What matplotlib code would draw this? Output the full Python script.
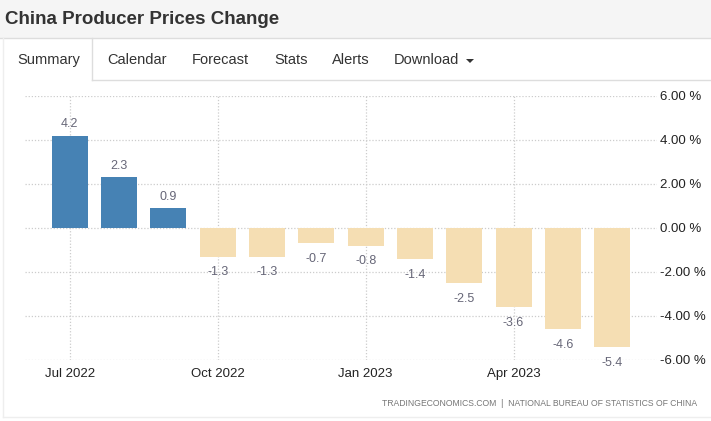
import matplotlib
matplotlib.use("Agg")
import matplotlib.pyplot as plt
from matplotlib.patches import Rectangle, Polygon

plt.rcParams['font.family'] = ['Liberation Sans', 'DejaVu Sans']

# data
months = ['Jul 2022', 'Aug 2022', 'Sep 2022', 'Oct 2022', 'Nov 2022', 'Dec 2022',
          'Jan 2023', 'Feb 2023', 'Mar 2023', 'Apr 2023', 'May 2023', 'Jun 2023']
values = [4.2, 2.3, 0.9, -1.3, -1.3, -0.7, -0.8, -1.4, -2.5, -3.6, -4.6, -5.4]
tick_months = ['Jul 2022', 'Oct 2022', 'Jan 2023', 'Apr 2023']
y_ticks = [6, 4, 2, 0, -2, -4, -6]
tabs = ['Summary', 'Calendar', 'Forecast', 'Stats', 'Alerts', 'Download']
tab_x = [17, 107, 192, 274, 332, 394]

W, H = 711, 421
fig = plt.figure(figsize=(W / 100, H / 100), dpi=100)

# page decoration in pixel coords
deco = fig.add_axes([0, 0, 1, 1])
deco.set_xlim(0, W)
deco.set_ylim(H, 0)
deco.axis('off')
deco.add_patch(Rectangle((0, 0), W, 38, facecolor='#f5f5f5', edgecolor='none'))
deco.text(5, 19, 'China Producer Prices Change', fontsize=13.5, fontweight='bold',
          color='#333333', va='center', ha='left')
line_c = '#dddddd'
deco.plot([0, W], [38, 38], color=line_c, lw=1)
deco.plot([91.5, 91.5], [38, 80], color=line_c, lw=1)
deco.plot([91.5, W], [80, 80], color=line_c, lw=1)
deco.plot([2.5, 2.5], [38, 416.5], color='#eeeeee', lw=1)
deco.plot([2.5, W], [416.5, 416.5], color='#eeeeee', lw=1)
for name, x in zip(tabs, tab_x):
    deco.text(x, 60, name, fontsize=10.5, color='#333333', va='center', ha='left')
deco.add_patch(Polygon([[466, 59], [474, 59], [470, 63]], closed=True,
                       facecolor='#333333', edgecolor='none'))
deco.text(697, 403, 'TRADINGECONOMICS.COM  |  NATIONAL BUREAU OF STATISTICS OF CHINA',
          fontsize=6.2, color='#777777', va='center', ha='right')

# chart
ax = fig.add_axes([25 / W, 1 - 360 / H, (657 - 25) / W, 264 / H])
ax.patch.set_alpha(0)
pos = list(range(len(months)))
colors = ['#4682b4' if v >= 0 else '#f5deb3' for v in values]
ax.bar(pos, values, width=0.73, color=colors, zorder=2)
for p, v in zip(pos, values):
    if v >= 0:
        ax.annotate(f'{v:.1f}', (p, v), xytext=(0, 4), textcoords='offset points',
                    ha='center', va='bottom', fontsize=9, color='#666677')
    else:
        ax.annotate(f'{v:.1f}', (p, v), xytext=(0, -7), textcoords='offset points',
                    ha='center', va='top', fontsize=9, color='#666677')

ax.set_xlim(-0.91, len(months) - 1 + 0.91)
ax.set_ylim(-6, 6)
ax.set_yticks(y_ticks)
ax.set_yticklabels([f'{t:.2f} %' for t in y_ticks])
ax.yaxis.tick_right()
ax.set_xticks([months.index(m) for m in tick_months])
ax.set_xticklabels(tick_months)
ax.tick_params(axis='both', length=0, labelsize=9.5, colors='#222222')
ax.tick_params(axis='y', pad=2)
ax.tick_params(axis='x', pad=6)
ax.grid(True, color='#cccccc', linestyle=(0, (1, 1.5)), linewidth=0.9, zorder=0)
ax.set_axisbelow(True)
for s in ax.spines.values():
    s.set_visible(False)

fig.savefig('out.png', dpi=100)
